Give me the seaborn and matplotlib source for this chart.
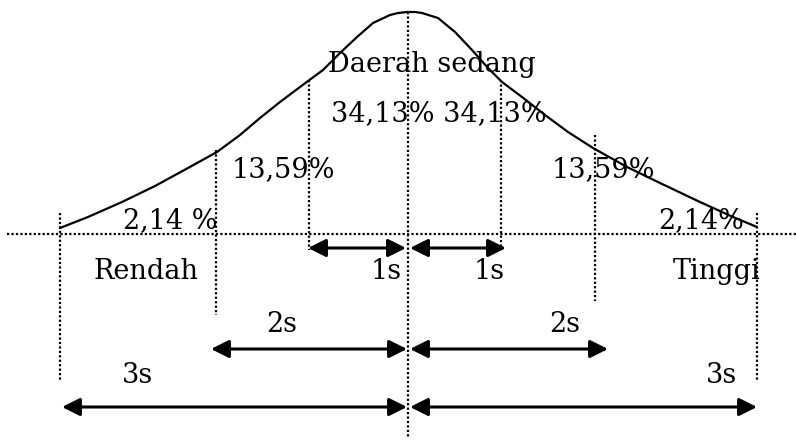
import numpy as np
import pandas as pd
import matplotlib
matplotlib.use("Agg")
import matplotlib.pyplot as plt
import seaborn as sns

# curve (pixel space, y grows downward)
curve_x = [60, 88, 122, 155, 188, 217, 240, 260, 280, 300, 323, 340, 357, 373, 390, 398, 407,
           415, 422, 438, 455, 472, 488, 502, 522, 545, 568, 593, 627, 660, 700, 733, 757]
curve_y = [228, 217, 202, 186, 168, 152, 135, 118, 102, 87, 70, 53, 37, 23, 15, 13, 12,
           12, 13, 18, 32, 50, 68, 82, 97, 115, 132, 148, 167, 183, 202, 217, 227]

# dotted guide lines
guide_x = [60, 216, 309, 408, 501, 595, 757]
guide_top = [213, 150, 80, 12, 80, 135, 213]
guide_bottom = [380, 315, 250, 438, 250, 301, 380]
baseline_y = 234

# double arrows: (from, to, level)
arrow_from = [308, 410, 211, 410, 62, 410]
arrow_to = [406, 506, 407, 608, 407, 757]
arrow_y = [248, 248, 349, 349, 407, 407]

labels = ["Daerah sedang", "34,13% 34,13%", "13,59%", "13,59%", "2,14 %", "2,14%",
          "Rendah", "1s", "1s", "Tinggi", "2s", "2s", "3s", "3s"]
label_x = [432, 439, 283, 603, 170, 701, 146, 386, 489, 717, 282, 565, 138, 721]
label_y = [72, 121, 177, 177, 228, 228, 279, 279, 279, 279, 332, 332, 383, 383]

sns.set_style("white")
plt.rcParams['font.family'] = ['DejaVu Serif']

fig = plt.figure(figsize=(7.96, 4.40), dpi=100)
ax = fig.add_axes([0, 0, 1, 1])

df = pd.DataFrame({"x": curve_x, "y": curve_y})
sns.lineplot(data=df, x="x", y="y", sort=False, color="black", lw=1.6, ax=ax)

dots = (0, (1, 1.0))
ax.plot([7, 796], [baseline_y, baseline_y], color="black", lw=1.6, linestyle=dots)
for gx, t, b in zip(guide_x, guide_top, guide_bottom):
    ax.plot([gx, gx], [t, b], color="black", lw=1.6, linestyle=dots)

for a, b, y in zip(arrow_from, arrow_to, arrow_y):
    ax.annotate("", xy=(b, y), xytext=(a, y),
                arrowprops=dict(arrowstyle="<|-|>,head_length=0.6,head_width=0.3",
                                mutation_scale=18, lw=2.2, color="black",
                                shrinkA=0, shrinkB=0))

for s, x, y in zip(labels, label_x, label_y):
    ax.text(x, y, s, ha="center", va="baseline", fontsize=19.5, color="black")

ax.set_xlim(0, 796)
ax.set_ylim(440, 0)
ax.axis("off")

fig.savefig("out.png", dpi=100)
